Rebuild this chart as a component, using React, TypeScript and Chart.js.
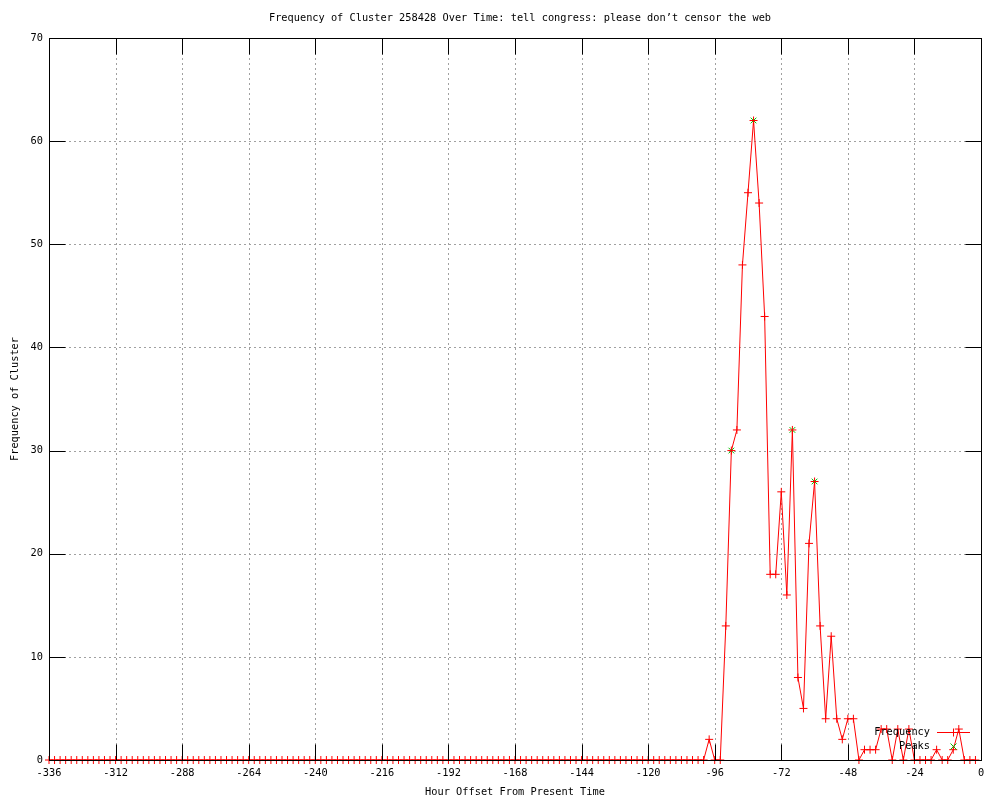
import { useEffect, useRef } from 'react';
import { Chart, registerables } from 'chart.js';

Chart.register(...registerables);

const titleText = 'Frequency of Cluster 258428 Over Time: tell congress: please don\u2019t censor the web';
const xTitle = 'Hour Offset From Present Time';
const yTitle = 'Frequency of Cluster';

const hours = [
  -336, -334, -332, -330, -328, -326, -324, -322, -320, -318, -316, -314, -312, -310, -308, -306, -304, -302, -300, -298,
  -296, -294, -292, -290, -288, -286, -284, -282, -280, -278, -276, -274, -272, -270, -268, -266, -264, -262, -260, -258,
  -256, -254, -252, -250, -248, -246, -244, -242, -240, -238, -236, -234, -232, -230, -228, -226, -224, -222, -220, -218,
  -216, -214, -212, -210, -208, -206, -204, -202, -200, -198, -196, -194, -192, -190, -188, -186, -184, -182, -180, -178,
  -176, -174, -172, -170, -168, -166, -164, -162, -160, -158, -156, -154, -152, -150, -148, -146, -144, -142, -140, -138,
  -136, -134, -132, -130, -128, -126, -124, -122, -120, -118, -116, -114, -112, -110, -108, -106, -104, -102, -100, -98,
  -96, -94, -92, -90, -88, -86, -84, -82, -80, -78, -76, -74, -72, -70, -68, -66, -64, -62, -60, -58,
  -56, -54, -52, -50, -48, -46, -44, -42, -40, -38, -36, -34, -32, -30, -28, -26, -24, -22, -20, -18,
  -16, -14, -12, -10, -8, -6, -4, -2,
];

const frequency = [
  0, 0, 0, 0, 0, 0, 0, 0, 0, 0, 0, 0, 0, 0, 0, 0, 0, 0, 0, 0,
  0, 0, 0, 0, 0, 0, 0, 0, 0, 0, 0, 0, 0, 0, 0, 0, 0, 0, 0, 0,
  0, 0, 0, 0, 0, 0, 0, 0, 0, 0, 0, 0, 0, 0, 0, 0, 0, 0, 0, 0,
  0, 0, 0, 0, 0, 0, 0, 0, 0, 0, 0, 0, 0, 0, 0, 0, 0, 0, 0, 0,
  0, 0, 0, 0, 0, 0, 0, 0, 0, 0, 0, 0, 0, 0, 0, 0, 0, 0, 0, 0,
  0, 0, 0, 0, 0, 0, 0, 0, 0, 0, 0, 0, 0, 0, 0, 0, 0, 0, 0, 2,
  0, 0, 13, 30, 32, 48, 55, 62, 54, 43, 18, 18, 26, 16, 32, 8, 5, 21, 27, 13,
  4, 12, 4, 2, 4, 4, 0, 1, 1, 1, 3, 3, 0, 3, 0, 3, 0, 0, 0, 0,
  1, 0, 0, 1, 3, 0, 0, 0,
];

const peakHours = [-90, -82, -68, -60];
const peakValues = [30, 62, 32, 27];

const xTicks = [-336, -312, -288, -264, -240, -216, -192, -168, -144, -120, -96, -72, -48, -24, 0];
const yTicks = [0, 10, 20, 30, 40, 50, 60, 70];

const FONT_FAMILY = '"DejaVu Sans Mono", monospace';
const FONT_SIZE = 10.3;
const FONT = `${FONT_SIZE}px ${FONT_FAMILY}`;
const RED = '#ff0000';
const GREEN = '#00c000';
const TICK_LEN = 16;

const gnuplotFrame = {
  id: 'gnuplotFrame',
  beforeDatasetsDraw(chart: any) {
    const { ctx, chartArea: a, scales } = chart;
    const x = scales.x;
    const y = scales.y;
    ctx.save();
    ctx.lineWidth = 1;
    ctx.strokeStyle = '#a0a0a0';
    ctx.setLineDash([2, 3]);
    ctx.beginPath();
    for (const t of xTicks) {
      const px = Math.round(x.getPixelForValue(t)) + 0.5;
      if (px <= a.left + 1 || px >= a.right - 1) continue;
      ctx.moveTo(px, a.top);
      ctx.lineTo(px, a.bottom);
    }
    for (const t of yTicks) {
      const py = Math.round(y.getPixelForValue(t)) + 0.5;
      if (py <= a.top + 1 || py >= a.bottom - 1) continue;
      ctx.moveTo(a.left, py);
      ctx.lineTo(a.right, py);
    }
    ctx.stroke();
    ctx.restore();
  },
  afterDatasetsDraw(chart: any) {
    const { ctx, chartArea: a, scales } = chart;
    const x = scales.x;
    const y = scales.y;
    ctx.save();
    ctx.lineWidth = 1;
    ctx.setLineDash([]);
    ctx.strokeStyle = '#000';
    const L = Math.round(a.left) + 0.5;
    const R = Math.round(a.right) + 0.5;
    const T = Math.round(a.top) + 0.5;
    const B = Math.round(a.bottom) + 0.5;
    ctx.beginPath();
    for (const t of xTicks) {
      const px = Math.round(x.getPixelForValue(t)) + 0.5;
      ctx.moveTo(px, B);
      ctx.lineTo(px, B - TICK_LEN);
      ctx.moveTo(px, T);
      ctx.lineTo(px, T + TICK_LEN);
    }
    for (const t of yTicks) {
      const py = Math.round(y.getPixelForValue(t)) + 0.5;
      ctx.moveTo(L, py);
      ctx.lineTo(L + TICK_LEN, py);
      ctx.moveTo(R, py);
      ctx.lineTo(R - TICK_LEN, py);
    }
    ctx.stroke();
    ctx.strokeRect(L, T, R - L, B - T);

    // Legend (key)
    ctx.font = FONT;
    ctx.fillStyle = '#000';
    ctx.textAlign = 'right';
    ctx.textBaseline = 'middle';
    const keyTextRight = 930;
    const row1 = 732.5;
    const row2 = 746.5;
    ctx.fillText('Frequency', keyTextRight, row1);
    ctx.fillText('Peaks', keyTextRight, row2);
    const s0 = 937;
    const s1 = 970;
    const sc = 953.5;
    ctx.strokeStyle = RED;
    ctx.beginPath();
    ctx.moveTo(s0, row1);
    ctx.lineTo(s1, row1);
    ctx.moveTo(sc, row1 - 4);
    ctx.lineTo(sc, row1 + 4);
    ctx.stroke();
    ctx.strokeStyle = GREEN;
    ctx.beginPath();
    ctx.moveTo(sc - 3, row2 - 3);
    ctx.lineTo(sc + 3, row2 + 3);
    ctx.moveTo(sc - 3, row2 + 3);
    ctx.lineTo(sc + 3, row2 - 3);
    ctx.stroke();

    // Title
    ctx.fillStyle = '#000';
    ctx.textAlign = 'center';
    ctx.fillText(titleText, 520, 18);
    ctx.restore();
  },
};

export default function App() {
  const canvasRef = useRef<HTMLCanvasElement | null>(null);

  useEffect(() => {
    const canvas = canvasRef.current;
    if (!canvas) return;
    const freqPoints = hours.map((h, i) => ({ x: h, y: frequency[i] }));
    const peakPoints = peakHours.map((h, i) => ({ x: h, y: peakValues[i] }));
    const font = { family: FONT_FAMILY, size: FONT_SIZE };

    const chart = new Chart(canvas, {
      type: 'line',
      data: {
        datasets: [
          {
            label: 'Frequency',
            data: freqPoints,
            borderColor: RED,
            backgroundColor: RED,
            borderWidth: 1,
            tension: 0,
            fill: false,
            pointStyle: 'cross',
            pointRadius: 4,
            pointBorderColor: RED,
            pointBorderWidth: 1,
            clip: false,
            order: 0,
          } as any,
          {
            label: 'Peaks',
            data: peakPoints,
            showLine: false,
            borderColor: GREEN,
            backgroundColor: GREEN,
            pointStyle: 'crossRot',
            pointRadius: 4,
            pointBorderColor: GREEN,
            pointBorderWidth: 1,
            clip: false,
            order: 1,
          } as any,
        ],
      },
      options: {
        responsive: false,
        animation: false,
        events: [],
        layout: { padding: { left: 0, right: 19, top: 38, bottom: 0 } },
        plugins: {
          legend: { display: false },
          title: { display: false },
          tooltip: { enabled: false },
        },
        scales: {
          x: {
            type: 'linear',
            min: -336,
            max: 0,
            afterBuildTicks: (s: any) => {
              s.ticks = xTicks.map((v) => ({ value: v }));
            },
            afterFit: (s: any) => {
              s.height = 40;
            },
            grid: { display: false, drawTicks: false },
            border: { display: false },
            ticks: {
              font,
              color: '#000',
              padding: 7,
              maxRotation: 0,
              autoSkip: false,
              callback: (v: any) => String(v),
            },
            title: {
              display: true,
              text: xTitle,
              font,
              color: '#000',
              padding: { top: 0, bottom: 1 },
            },
          },
          y: {
            type: 'linear',
            min: 0,
            max: 70,
            afterBuildTicks: (s: any) => {
              s.ticks = yTicks.map((v) => ({ value: v }));
            },
            afterFit: (s: any) => {
              s.width = 49;
            },
            grid: { display: false, drawTicks: false },
            border: { display: false },
            ticks: {
              font,
              color: '#000',
              padding: 6,
              autoSkip: false,
              callback: (v: any) => String(v),
            },
            title: {
              display: true,
              text: yTitle,
              font,
              color: '#000',
              padding: { top: 9, bottom: 0 },
            },
          },
        },
      } as any,
      plugins: [gnuplotFrame],
    });

    return () => {
      chart.destroy();
    };
  }, []);

  return (
    <div style={{ position: 'fixed', left: 0, top: 0, width: 1000, height: 800, background: '#fff' }}>
      <canvas ref={canvasRef} width={1000} height={800} style={{ display: 'block', width: 1000, height: 800 }} />
    </div>
  );
}
